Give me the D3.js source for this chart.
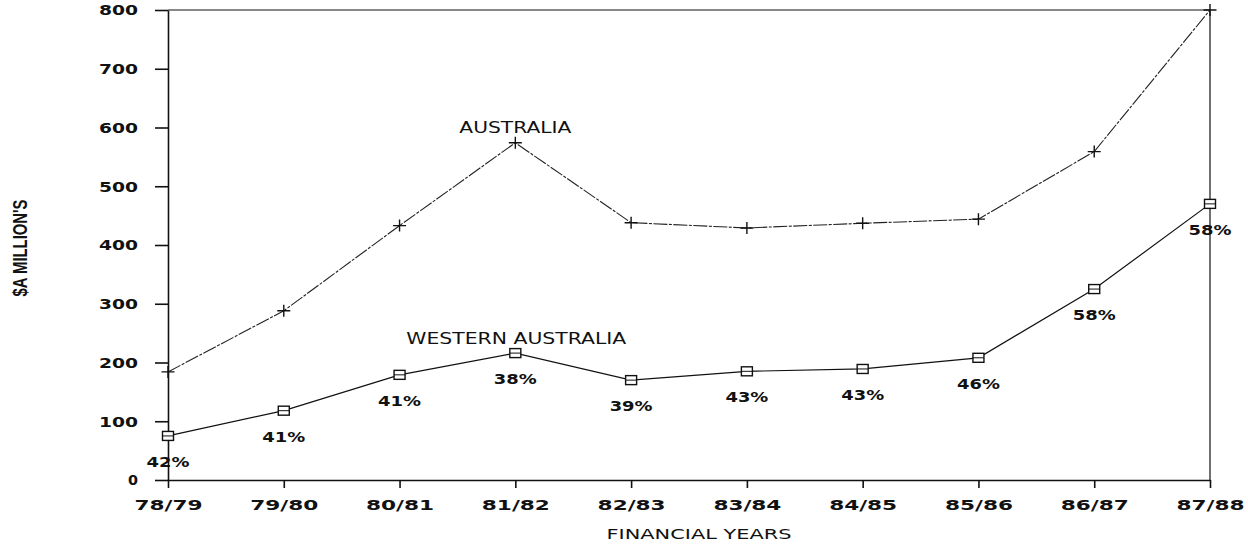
<!DOCTYPE html>
<html>
<head>
<meta charset="utf-8">
<script src="https://cdn.jsdelivr.net/npm/d3@7/dist/d3.min.js"></script>
<style>
  html, body { margin: 0; padding: 0; background: #fff; }
  svg { display: block; }
  text { fill: #111; }
</style>
</head>
<body>
<svg id="chart" width="1248" height="547"></svg>
<script>
// ---- data ----
const years = ["78/79","79/80","80/81","81/82","82/83","83/84","84/85","85/86","86/87","87/88"];
const australia = [184, 288, 433, 574, 438, 429, 437, 444, 559, 800];
const westernAustralia = [75, 118, 179, 216, 170, 185, 189, 208, 325, 470];
const waShare = ["42%","41%","41%","38%","39%","43%","43%","46%","58%","58%"];
const yTicks = [0, 100, 200, 300, 400, 500, 600, 700, 800];
const yTitle = "$A MILLION'S";
const xTitle = "FINANCIAL YEARS";
const seriesNames = ["AUSTRALIA", "WESTERN AUSTRALIA"];

// ---- layout ----
const svg = d3.select("#chart");
const plotLeft = 168, plotRight = 1210, plotTop = 10, plotBottom = 480;
const x = d3.scalePoint().domain(years).range([plotLeft, plotRight]);
const y = d3.scaleLinear().domain([0, 800]).range([plotBottom, plotTop]);

const tickFont = "'DejaVu Sans', 'Verdana', sans-serif";

function fit(sel, perChar, single) {
  sel.attr("lengthAdjust", "spacingAndGlyphs")
     .attr("textLength", function() {
       const n = this.textContent.length;
       return (n === 1 && single) ? single : perChar * n;
     });
}

// y axis
const gy = svg.append("g").attr("transform", `translate(${plotLeft},0)`)
  .call(d3.axisLeft(y).tickValues(yTicks).tickSize(13).tickSizeOuter(0).tickPadding(17));
gy.select(".domain").attr("stroke", "#111").attr("stroke-width", 1.6);
gy.selectAll(".tick line").attr("stroke", "#111").attr("stroke-width", 1.6);
gy.selectAll(".tick text")
  .attr("font-family", tickFont).attr("font-weight", "bold").attr("font-size", 13.5)
  .attr("dy", "0.36em").attr("fill", "#111")
  .call(fit, 13, 10);

// x axis
const gx = svg.append("g").attr("transform", `translate(0,${plotBottom})`)
  .call(d3.axisBottom(x).tickSize(8).tickSizeOuter(0).tickPadding(0));
gx.select(".domain").attr("stroke", "#111").attr("stroke-width", 1.6);
gx.selectAll(".tick line").attr("stroke", "#111").attr("stroke-width", 1.6);
gx.selectAll(".tick text")
  .attr("font-family", tickFont).attr("font-weight", "bold").attr("font-size", 13.5)
  .attr("dy", null).attr("y", 30).attr("fill", "#111")
  .call(fit, 13.6);

// frame top + right
const lastYear = years[years.length - 1];
svg.append("path")
  .attr("d", d3.line()([[x(years[0]), y(800)], [x(lastYear), y(800)], [x(lastYear), y(0)]]))
  .attr("fill", "none").attr("stroke", "#111").attr("stroke-width", 1.2);

// lines
const line = d3.line().x((d, i) => x(years[i])).y(d => y(d));
svg.append("path").datum(australia).attr("d", line)
  .attr("fill", "none").attr("stroke", "#222").attr("stroke-width", 1.1)
  .attr("stroke-dasharray", "14,1.5,3,1.5");
svg.append("path").datum(westernAustralia).attr("d", line)
  .attr("fill", "none").attr("stroke", "#111").attr("stroke-width", 1.2);

// markers: crosses for Australia
svg.append("g").selectAll("path").data(australia).join("path")
  .attr("transform", (d, i) => `translate(${x(years[i])},${y(d)})`)
  .attr("d", "M-6.5,0H6.5M0,-6V6")
  .attr("stroke", "#111").attr("stroke-width", 1.4).attr("fill", "none");

// markers: squares for Western Australia
const sq = svg.append("g").selectAll("g").data(westernAustralia).join("g")
  .attr("transform", (d, i) => `translate(${x(years[i])},${y(d)})`);
sq.append("rect").attr("x", -5.5).attr("y", -4.5).attr("width", 11).attr("height", 9)
  .attr("fill", "#fff").attr("stroke", "#111").attr("stroke-width", 1.4);
sq.append("path").attr("d", "M-5.5,0H5.5").attr("stroke", "#111").attr("stroke-width", 1);

// share labels
svg.append("g").selectAll("text").data(westernAustralia).join("text")
  .attr("x", (d, i) => x(years[i]))
  .attr("y", d => y(d) + 31)
  .attr("text-anchor", "middle")
  .attr("font-family", tickFont).attr("font-weight", "bold").attr("font-size", 13.5)
  .text((d, i) => waShare[i])
  .call(fit, 14.3);

// series labels
svg.append("text")
  .attr("x", x("81/82")).attr("y", y(australia[3]) - 10)
  .attr("text-anchor", "middle")
  .attr("font-family", tickFont).attr("font-size", 15)
  .text(seriesNames[0])
  .attr("lengthAdjust", "spacingAndGlyphs").attr("textLength", 112);
svg.append("text")
  .attr("x", x("81/82") + 1).attr("y", y(westernAustralia[3]) - 9.5)
  .attr("text-anchor", "middle")
  .attr("font-family", tickFont).attr("font-size", 15)
  .text(seriesNames[1])
  .attr("lengthAdjust", "spacingAndGlyphs").attr("textLength", 220);

// axis titles
svg.append("text")
  .attr("transform", "translate(27,248) rotate(-90)")
  .attr("text-anchor", "middle")
  .attr("font-family", "'Liberation Sans Narrow', 'Liberation Sans', sans-serif")
  .attr("font-weight", "bold").attr("font-size", 20)
  .text(yTitle)
  .attr("lengthAdjust", "spacingAndGlyphs").attr("textLength", 97);
svg.append("text")
  .attr("x", (plotLeft + plotRight) / 2 + 10).attr("y", 539)
  .attr("text-anchor", "middle")
  .attr("font-family", tickFont).attr("font-size", 14)
  .text(xTitle)
  .attr("lengthAdjust", "spacingAndGlyphs").attr("textLength", 185);
</script>
</body>
</html>
